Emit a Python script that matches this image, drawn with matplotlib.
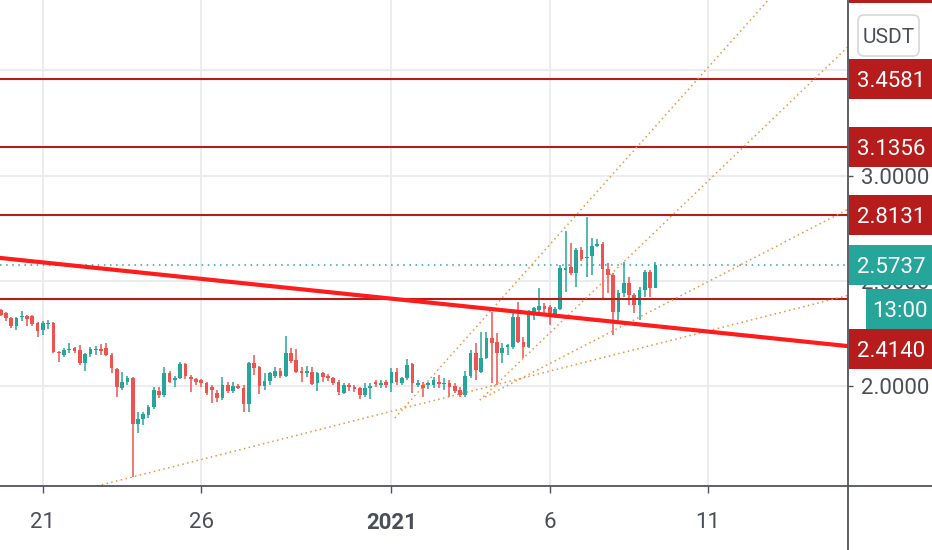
import matplotlib
matplotlib.use("Agg")
import matplotlib.pyplot as plt
import matplotlib.dates as mdates
import numpy as np
import pandas as pd
from matplotlib.patches import Rectangle, FancyBboxPatch
from matplotlib.lines import Line2D
from matplotlib.transforms import IdentityTransform

plt.rcParams["font.family"] = ["Roboto", "DejaVu Sans"]

# 4h candles, first one opens 2020-12-19 16:00
first_candle = "2020-12-19 16:00"
opens = [
    2.361, 2.347, 2.323, 2.285, 2.328, 2.333, 2.333, 2.299, 2.266, 2.295,
    2.299, 2.162, 2.147, 2.171, 2.181, 2.171, 2.109, 2.152, 2.171, 2.176,
    2.181, 2.147, 2.081, 1.990, 2.019, 2.038, 1.819, 1.843, 1.862, 1.900,
    1.976, 1.957, 2.062, 2.029, 2.038, 2.105, 2.043, 2.033, 2.029, 2.014,
    1.995, 1.967, 1.943, 2.005, 1.976, 2.000, 1.990, 1.914, 2.109, 2.090,
    2.000, 2.024, 2.048, 2.071, 2.048, 2.157, 2.124, 2.071, 2.062, 2.067,
    2.014, 2.062, 2.048, 2.038, 2.019, 1.967, 2.005, 1.995, 1.990, 1.957,
    1.990, 2.019, 2.005, 2.019, 2.014, 2.067, 2.014, 2.038, 2.105, 2.005,
    2.005, 2.005, 2.005, 2.019, 2.010, 2.014, 2.000, 1.981, 1.957, 2.048,
    2.157, 2.067, 2.133, 2.228, 2.209, 2.157, 2.185, 2.185, 2.328, 2.209,
    2.185, 2.347, 2.361, 2.380, 2.375, 2.333, 2.366, 2.551, 2.565, 2.537,
    2.646, 2.608, 2.618, 2.665, 2.675, 2.556, 2.527, 2.352, 2.442, 2.489,
    2.432, 2.385, 2.456, 2.542, 2.466,
]
highs = [
    2.366, 2.352, 2.328, 2.328, 2.356, 2.337, 2.337, 2.304, 2.309, 2.314,
    2.304, 2.166, 2.181, 2.204, 2.185, 2.195, 2.157, 2.185, 2.190, 2.200,
    2.204, 2.157, 2.086, 2.067, 2.048, 2.043, 1.876, 1.876, 1.910, 1.995,
    1.995, 2.090, 2.071, 2.048, 2.114, 2.109, 2.052, 2.038, 2.033, 2.019,
    2.005, 1.981, 2.043, 2.019, 2.019, 2.010, 2.005, 2.114, 2.147, 2.095,
    2.062, 2.067, 2.090, 2.086, 2.238, 2.181, 2.176, 2.090, 2.095, 2.090,
    2.067, 2.067, 2.057, 2.043, 2.029, 2.014, 2.014, 2.005, 1.995, 2.014,
    2.014, 2.029, 2.029, 2.029, 2.086, 2.086, 2.043, 2.128, 2.109, 2.029,
    2.019, 2.019, 2.043, 2.052, 2.038, 2.029, 2.014, 1.995, 2.071, 2.171,
    2.204, 2.257, 2.257, 2.352, 2.252, 2.204, 2.200, 2.347, 2.399, 2.233,
    2.361, 2.375, 2.466, 2.394, 2.385, 2.375, 2.575, 2.736, 2.679, 2.656,
    2.660, 2.803, 2.703, 2.698, 2.684, 2.584, 2.537, 2.456, 2.589, 2.518,
    2.442, 2.470, 2.551, 2.551, 2.589,
]
lows = [
    2.333, 2.309, 2.276, 2.266, 2.309, 2.285, 2.285, 2.233, 2.242, 2.271,
    2.157, 2.114, 2.138, 2.157, 2.157, 2.100, 2.071, 2.138, 2.147, 2.147,
    2.143, 2.062, 1.948, 1.981, 2.005, 1.568, 1.777, 1.815, 1.848, 1.891,
    1.943, 1.948, 2.014, 1.995, 2.033, 2.033, 1.971, 2.005, 1.995, 1.957,
    1.919, 1.924, 1.933, 1.967, 1.967, 1.986, 1.876, 1.876, 2.052, 1.962,
    1.981, 2.005, 2.038, 2.038, 2.043, 2.109, 2.062, 2.019, 2.043, 2.005,
    1.976, 2.019, 2.024, 2.005, 1.957, 1.962, 1.976, 1.971, 1.938, 1.948,
    1.938, 1.995, 1.990, 1.990, 1.971, 2.005, 2.005, 2.029, 1.967, 1.995,
    1.948, 1.986, 1.990, 1.990, 1.981, 1.948, 1.967, 1.948, 1.948, 2.038,
    2.029, 2.062, 2.128, 2.014, 2.005, 2.109, 2.147, 2.176, 2.204, 2.133,
    2.181, 2.314, 2.347, 2.347, 2.290, 2.323, 2.361, 2.447, 2.527, 2.470,
    2.594, 2.518, 2.527, 2.660, 2.409, 2.442, 2.242, 2.314, 2.423, 2.385,
    2.347, 2.314, 2.423, 2.423, 2.466,
]
closes = [
    2.337, 2.323, 2.285, 2.323, 2.333, 2.318, 2.295, 2.261, 2.299, 2.299,
    2.162, 2.157, 2.171, 2.176, 2.166, 2.109, 2.152, 2.176, 2.176, 2.166,
    2.147, 2.086, 1.995, 2.019, 2.038, 1.819, 1.843, 1.867, 1.900, 1.981,
    1.957, 2.062, 2.019, 2.038, 2.105, 2.048, 2.033, 2.019, 2.014, 1.967,
    1.981, 1.943, 2.005, 1.976, 2.000, 1.990, 1.914, 2.109, 2.086, 2.000,
    2.024, 2.062, 2.071, 2.048, 2.157, 2.119, 2.067, 2.062, 2.071, 2.010,
    2.062, 2.043, 2.038, 2.014, 1.971, 2.005, 1.995, 1.986, 1.957, 1.990,
    2.000, 2.010, 2.014, 2.005, 2.067, 2.019, 2.038, 2.100, 2.014, 2.014,
    1.990, 2.014, 2.029, 2.010, 2.014, 1.995, 1.976, 1.957, 2.048, 2.157,
    2.076, 2.133, 2.228, 2.204, 2.157, 2.181, 2.195, 2.328, 2.209, 2.185,
    2.352, 2.371, 2.380, 2.366, 2.347, 2.366, 2.561, 2.561, 2.537, 2.646,
    2.603, 2.613, 2.665, 2.675, 2.556, 2.527, 2.352, 2.442, 2.489, 2.432,
    2.385, 2.456, 2.542, 2.466, 2.5737,
]

# horizontal levels
levels = [3.4581, 3.1356, 2.8131, 2.4140]

# long descending trend line (extended both ways)
trend_dates = ["2020-12-20 00:00", "2021-01-12 00:00"]
trend_prices = [2.603, 2.243]

# rising support from the Dec 23 low (extended both ways)
support_dates = ["2020-12-23 20:00", "2021-01-03 08:00"]
support_prices = [1.568, 1.969]

# dotted rays: start point and a point they pass through
ray_start_dates = ["2021-01-01 02:40", "2021-01-03 19:00", "2021-01-03 23:00"]
ray_start_prices = [1.848, 1.933, 1.948]
ray_mid_dates = ["2021-01-09 00:00", "2021-01-12 00:00", "2021-01-12 00:00"]
ray_mid_prices = [3.177, 3.119, 2.574]

tick_dates = ["2020-12-21", "2020-12-26", "2021-01-01", "2021-01-06", "2021-01-11"]
tick_labels = ["21", "26", "2021", "6", "11"]
price_ticks = [2.0, 2.5, 3.0, 3.5]
# 3.5000 sits fully under the 3.4581 label, so it is not written
price_tick_labels = ["2.0000", "2.5000", "3.0000", ""]
countdown = "13:00"
currency = "USDT"

UP = "#26a69a"
DOWN = "#ef5350"
LEVEL = "#b71c1c"
TREND = "#ff1c1c"
ORANGE = "#f0923a"
GRID = "#e9ebef"
AXIS = "#50535e"
TEXT = "#4a4e57"
FS = 16

W, H = 932, 550
fig = plt.figure(figsize=(W / 100, H / 100), dpi=100)
ax = fig.add_axes([0, 64 / H, 848 / W, 486 / H])

d21 = mdates.date2num(pd.Timestamp("2020-12-21"))
ax.set_xlim(d21 - 1.354, d21 + 25.414)
ax.set_ylim(1.525, 3.834)
for s in ax.spines.values():
    s.set_visible(False)

# grid + ticks
ax.set_axisbelow(True)
ax.set_xticks([mdates.date2num(pd.Timestamp(d)) for d in tick_dates])
ax.set_xticklabels(tick_labels)
ax.get_xticklabels()[2].set_fontweight("bold")
ax.yaxis.tick_right()
ax.set_yticks(price_ticks)
ax.set_yticklabels(price_tick_labels)
ax.tick_params(axis="x", length=5, width=1, color=AXIS, pad=14,
               labelsize=FS, labelcolor=TEXT)
ax.tick_params(axis="y", length=3.6, width=1, color=AXIS, pad=6,
               labelsize=FS, labelcolor=TEXT)
ax.grid(True, color=GRID, lw=1.3)

# candles
t = mdates.date2num(pd.date_range(first_candle, periods=len(opens), freq="4h"))
o, h, l, c = (np.array(a) for a in (opens, highs, lows, closes))
up = c >= o
col = np.where(up, UP, DOWN)
body = c - o
body = np.where(np.abs(body) < 0.006, np.where(up, 0.006, -0.006), body)
bw = 0.7 * 4 / 24
ax.vlines(t, l, h, colors=col, lw=1.1, zorder=3)
ax.bar(t, body, bottom=o, width=bw, color=col, linewidth=0, zorder=3.1)

# drawings
for lv in levels:
    ax.axhline(lv, color=LEVEL, lw=1.5, zorder=4)
ax.axhline(closes[-1], color=UP, lw=1.1, ls=(0, (1, 3)), zorder=4)

tp = [mdates.date2num(pd.Timestamp(d)) for d in trend_dates]
ax.axline((tp[0], trend_prices[0]), (tp[1], trend_prices[1]),
          color=TREND, lw=3.0, zorder=6)

sp = [mdates.date2num(pd.Timestamp(d)) for d in support_dates]
ax.axline((sp[0], support_prices[0]), (sp[1], support_prices[1]),
          color=ORANGE, lw=1.1, ls=(0, (1, 2.2)), zorder=5)

x_right = ax.get_xlim()[1]
for sd, spr, md, mpr in zip(ray_start_dates, ray_start_prices,
                            ray_mid_dates, ray_mid_prices):
    x0 = mdates.date2num(pd.Timestamp(sd))
    x1 = mdates.date2num(pd.Timestamp(md))
    k = (mpr - spr) / (x1 - x0)
    ax.plot([x0, x_right], [spr, spr + k * (x_right - x0)],
            color=ORANGE, lw=1.1, ls=(0, (1, 2.2)), zorder=5)

# frame lines of the price / time scales
ident = IdentityTransform()
fig.add_artist(Line2D([0, W], [64, 64], color=AXIS, lw=1.3, transform=ident))
fig.add_artist(Line2D([848, 848], [0, H], color=AXIS, lw=1.3, transform=ident))


def price_y(p):
    return ax.transData.transform((x_right, p))[1]


def scale_label(text, yc, color, x0=848):
    fig.add_artist(Rectangle((x0 + 0.7, yc - 20), W - x0, 40, color=color,
                             lw=0, transform=ident, zorder=5))
    fig.text((x0 + W) / 2 + 1, yc, text, color="white", fontsize=FS,
             ha="center", va="center_baseline", transform=ident, zorder=6)


# price scale labels; the 2.4140 one gets pushed below the countdown
for lv in levels[:3]:
    scale_label(f"{lv:.4f}", price_y(lv), LEVEL)
last_y = price_y(closes[-1])
scale_label(f"{closes[-1]:.4f}", last_y, UP)
cd_y = last_y - 44
scale_label(countdown, cd_y, UP, x0=865)
low_y = min(price_y(levels[3]), cd_y - 40)
scale_label(f"{levels[3]:.4f}", low_y, LEVEL)

# small label cut off at the top of the scale
fig.add_artist(Rectangle((848.7, H - 3), W - 848, 3, color=LEVEL, lw=0,
                         transform=ident, zorder=5))

# currency button
fig.add_artist(FancyBboxPatch((858, H - 56), 61, 41,
                              boxstyle="round,pad=0,rounding_size=6",
                              fc="white", ec="#d5d7dc", lw=1.2,
                              transform=ident, zorder=5))
fig.text(888.5, H - 35.5, currency, color=TEXT, fontsize=15, ha="center",
         va="center_baseline", transform=ident, zorder=6)

fig.savefig("out.png", dpi=100, facecolor="white")
